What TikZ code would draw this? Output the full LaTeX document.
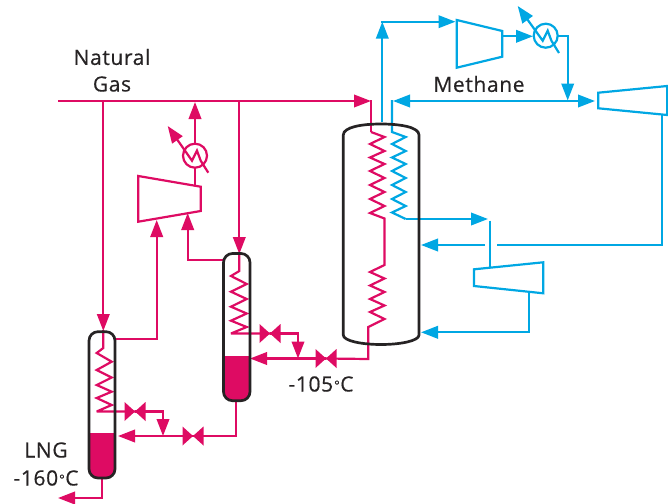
\documentclass[tikz,border=0pt]{standalone}
\usepackage{fontspec}
\setmainfont[LetterSpace=3,FakeBold=0.5]{Open Sans}
\usetikzlibrary{arrows.meta}
\definecolor{mag}{HTML}{DE0B63}
\definecolor{blu}{HTML}{00A7E3}
\definecolor{ink}{HTML}{262324}
\newcommand{\degc}{\kern1pt\raisebox{1.5pt}{\fontsize{13}{13}\selectfont °}\kern0.5pt C}
\tikzset{
  pipe/.style={line width=2.2pt,line join=miter,miter limit=3,draw=#1},
  flow/.style={pipe=#1,-{Triangle[length=17pt,width=12.5pt]}},
  both/.style={pipe=#1,{Triangle[length=17pt,width=12.5pt]}-{Triangle[length=17pt,width=12.5pt]}},
  vessel/.style={line width=2.7pt,draw=ink},
  lbl/.style={font=\fontsize{21}{24}\selectfont,text=ink,inner sep=0pt,align=center},
  valve/.pic={\fill[mag] (-10.5,-9.5)--(10.5,9.5)--(10.5,-9.5)--(-10.5,9.5)--cycle;},
  hx/.style={line width=2.2pt,draw=#1,fill=white}
}
\begin{document}
\begin{tikzpicture}[x=1pt,y=-1pt]
\useasboundingbox (0,0) rectangle (668,503);

% --- named points
\coordinate (in0) at (58,101);
\coordinate (in1) at (371,101);
\coordinate (c1top) at (371,132);
\coordinate (leftT) at (103.3,331);
\coordinate (midT) at (239.3,254);
\coordinate (mJ) at (239.3,101);
\coordinate (lJ) at (103.3,101);
\coordinate (hxM) at (195,155.7);
\coordinate (hxB) at (545.7,35.7);

% --- magenta lines
\draw[flow=mag] (in0) -- (in1);
\draw[pipe=mag] (371,100) -- (c1top);
\draw[flow=mag] (lJ) -- (leftT);
\draw[flow=mag] (mJ) -- (midT);
\draw[pipe=mag] (c1top) -- (384.5,137) -- (370,144) -- (384.5,151) -- (370,157.5) -- (384.5,164) -- (370,171) -- (384.5,178) -- (370,185) -- (384.5,192) -- (370,199) -- (384.5,206) -- (370,213) -- (384.5,218.5) -- (384.5,265) -- (370,272) -- (384.5,278.5) -- (370,285.5) -- (384.5,292) -- (370,299) -- (384.5,305.5) -- (370,312) -- (384.5,319) -- (368.3,327) -- (368.3,359) -- (326,358.5);
\coordinate (vM) at (326,358.5);
\coordinate (jM) at (298,358.5);
\draw[flow=mag] (vM) -- (250,358.5);
\draw[pipe=mag] (239.3,253) -- (239.3,271) -- (231,276) -- (246.7,284) -- (231,291.7) -- (246.7,299) -- (231,306.7) -- (246.7,313.5) -- (231,320.7) -- (246.7,327) -- (231,333.5) -- (270,333.5);
\coordinate (vM2) at (270,333.5);
\draw[flow=mag] (vM2) -- (298,333.5) -- (jM);
\draw[pipe=mag] (103.3,330) -- (103.3,348) -- (96.7,353) -- (111.7,361.7) -- (96.7,370) -- (111.7,377.5) -- (96.7,385) -- (111.7,391.7) -- (96.7,398) -- (111.7,405) -- (96.7,411.5) -- (135,411.5);
\coordinate (vL) at (135,411.5);
\coordinate (jL) at (163,436);
\coordinate (vL2) at (193,436);
\draw[flow=mag] (vL) -- (163,411.5) -- (jL);
\draw[flow=mag] (236,400) -- (236,436) -- (118,436);
\draw[flow=mag] (102.3,477) -- (102.3,498) -- (58,498);
\pic at (vM) {valve};
\pic at (vM2) {valve};
\pic at (vL) {valve};
\pic at (vL2) {valve};
\draw[flow=mag] (115,338.7) -- (156.7,338.7) -- (156.7,220);
\draw[flow=mag] (222.7,260) -- (187.7,260) -- (187.7,213);
\draw[pipe=mag] (138.3,176) -- (200.7,186.7) -- (200.7,211) -- (138.3,221.7) -- cycle;
\draw[pipe=mag] (195,186) -- (hxM);
\draw[flow=mag] (hxM) -- (195,102);
\draw[hx=mag] (hxM) circle (12);
\draw[flow=mag] (208.3,172.7) -- (200.7,160.7) -- (197,150.7) -- (192,160.7) -- (167.7,126);

% --- blue lines
\draw[flow=blu] (382.3,122) -- (382.3,21.7);
\draw[flow=blu] (381.2,21.7) -- (455.5,21.7);
\draw[pipe=blu] (456.7,20) -- (502.3,31) -- (502.3,56.7) -- (456.7,67.7) -- cycle;
\draw[flow=blu] (502.3,36.3) -- (533,36.3);
\draw[hx=blu] (hxB) circle (12);
\draw[flow=blu] (559,53) -- (551.4,40.7) -- (547.7,30.7) -- (542.7,40.7) -- (517.7,6);
\draw[flow=blu] (557.7,36) -- (567.7,36) -- (567.7,100.5);
\draw[both=blu] (393,101) -- (595,101);
\draw[pipe=blu] (392,100) -- (392,132) -- (405.7,137) -- (392,144) -- (405.7,151) -- (392,157.5) -- (405.7,164) -- (392,171) -- (405.7,178) -- (392,185) -- (405.7,192) -- (392,199) -- (405.7,206) -- (392,212.5) -- (405.7,219);
\draw[flow=blu] (405.7,219) -- (488,219);
\draw[pipe=blu] (598.3,92.7) -- (667.3,86) -- (667.3,115) -- (598.3,108.3) -- cycle;
\draw[pipe=blu] (661.7,115) -- (661.7,245) -- (497.3,245);
\draw[flow=blu] (485,245) -- (421,245);
\draw[pipe=blu] (490.3,220.7) -- (490.3,267);
\draw[pipe=blu] (474,269.3) -- (543.3,262.3) -- (543.3,293.3) -- (474,286) -- cycle;
\draw[flow=blu] (529.3,291.5) -- (529.3,332.3) -- (421,332.3);

% --- vessels
\fill[mag,rounded corners=9pt] (223.5,356) rectangle (250,400.7);
\fill[mag] (223.5,356) rectangle (250,385);
\fill[mag,rounded corners=9pt] (89,433) rectangle (115,478);
\fill[mag] (89,433) rectangle (115,460);
\draw[vessel,rounded corners=9pt] (223.5,253.5) rectangle (250,400.7);
\draw[vessel,rounded corners=9pt] (89,331.7) rectangle (115,478);
\draw[vessel] (343.3,335) -- (343.3,135) .. controls (343.3,127) and (362,124) .. (381,124) .. controls (400,124) and (419,127) .. (419,135) -- (419,335) .. controls (419,341) and (400,344.5) .. (381,344.5) .. controls (362,344.5) and (343.3,341) .. (343.3,335) -- cycle;

% --- labels
\node[lbl] (natural) at (112,57) {Natural};
\node[lbl] (gas) at (112,84) {Gas};
\node[lbl] (methane) at (479,84) {Methane};
\node[lbl] (t105) at (321,384) {-105\degc};
\node[lbl] (lng) at (46,450) {LNG};
\node[lbl] (t160) at (46,478) {-160\degc};
\end{tikzpicture}
\end{document}
